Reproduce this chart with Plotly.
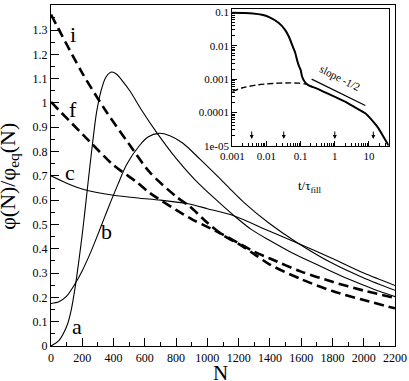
import math
import plotly.graph_objects as go

# ---------------- main panel data ----------------
N_a = [0, 50, 100, 125, 153, 180, 200, 216, 240, 265, 291, 320, 350, 387, 420, 460, 504,
       580, 674, 800, 918, 1050, 1173, 1280, 1394, 1537, 1700, 1850, 2000, 2100, 2200]
phi_a = [0.0, 0.022, 0.08, 0.135, 0.235, 0.36, 0.46, 0.55, 0.69, 0.83, 0.96, 1.05, 1.105, 1.127,
         1.118, 1.088, 1.05, 0.97, 0.88, 0.772, 0.686, 0.605, 0.535, 0.48, 0.436, 0.385, 0.335,
         0.29, 0.25, 0.225, 0.203]

N_b = [0, 50, 100, 153, 200, 250, 291, 340, 386, 428, 482, 566, 620, 690, 760, 842, 951,
       1055, 1140, 1235, 1395, 1575, 1800, 2000, 2200]
phi_b = [0.175, 0.182, 0.205, 0.255, 0.31, 0.38, 0.445, 0.525, 0.6, 0.665, 0.745, 0.825, 0.86,
         0.875, 0.865, 0.835, 0.77, 0.705, 0.65, 0.59, 0.505, 0.425, 0.34, 0.28, 0.229]

N_c = [0, 100, 204, 400, 567, 700, 885, 1000, 1173, 1395, 1575, 1800, 2000, 2200]
phi_c = [0.7, 0.67, 0.645, 0.62, 0.608, 0.6, 0.584, 0.565, 0.535, 0.473, 0.424, 0.36, 0.3, 0.249]

N_i = [0, 200, 355, 500, 631, 800, 886, 1000, 1100, 1200, 1300, 1400, 1600, 1800, 2000, 2200]
phi_i = [1.364, 1.123, 0.963, 0.83, 0.715, 0.615, 0.575, 0.507, 0.456, 0.42, 0.378, 0.335,
         0.275, 0.226, 0.189, 0.155]

N_f = [0, 249, 400, 547, 631, 800, 905, 1000, 1100, 1200, 1300, 1400, 1600, 1800, 2000, 2200]
phi_f = [1.004, 0.84, 0.744, 0.675, 0.63, 0.56, 0.52, 0.49, 0.458, 0.423, 0.388, 0.36, 0.306,
         0.264, 0.228, 0.198]

curve_labels = ["i", "f", "c", "b", "a"]
label_N = [142, 138, 121, 358, 164]
label_phi = [1.282, 0.972, 0.712, 0.47, 0.082]

x_ticks = list(range(0, 2201, 200))
y_ticks = [0, 0.1, 0.2, 0.3, 0.4, 0.5, 0.6, 0.7, 0.8, 0.9, 1.0, 1.1, 1.2, 1.3]
y_ticktext = ["0", "0.1", "0.2", "0.3", "0.4", "0.5", "0.6", "0.7", "0.8", "0.9", "1", "1.1", "1.2", "1.3"]

# ---------------- inset data ----------------
t_solid = [0.001, 0.002, 0.004, 0.0074, 0.012, 0.023, 0.035, 0.045, 0.06, 0.069, 0.08, 0.09, 0.1,
           0.11, 0.13, 0.16, 0.2, 0.3, 0.5, 1.05, 2, 4, 7.8, 12, 18.4, 27, 38]
phi_solid = [0.098, 0.096, 0.093, 0.085, 0.072, 0.048, 0.03, 0.019, 0.009, 0.0063, 0.0035, 0.0024,
             0.0019, 0.0012, 0.00085, 0.00068, 0.00061, 0.00052, 0.00041, 0.00029, 0.00021,
             0.00014, 9.5e-05, 6.0e-05, 3.5e-05, 1.8e-05, 1.0e-05]

t_dash = [0.001, 0.002, 0.0048, 0.01, 0.023, 0.05, 0.087, 0.13, 0.17]
phi_dash = [4.3e-04, 5.5e-04, 6.6e-04, 7.2e-04, 7.6e-04, 7.7e-04, 7.6e-04, 7.2e-04, 6.8e-04]

t_slope = [0.21, 7.8]
phi_slope = [1.0e-03, 1.62e-04]

arrow_t = [0.0037, 0.032, 1.0, 13.4]
arrow_phi = [1.6e-05, 1.6e-05, 1.6e-05, 1.6e-05]

inset_xticks = [0.001, 0.01, 0.1, 1, 10]
inset_xticktext = ["0.001", "0.01", "0.1", "1", "10"]
inset_yticks = [1e-05, 1e-04, 1e-03, 1e-02, 1e-01]
inset_yticktext = ["1e-05", "0.0001", "0.001", "0.01", "0.1"]

SERIF = "Liberation Serif, Times New Roman, serif"

fig = go.Figure()

thin = dict(color="black", width=1.1, shape="spline", smoothing=0.8)
for xs, ys in [(N_a, phi_a), (N_b, phi_b), (N_c, phi_c)]:
    fig.add_trace(go.Scatter(x=xs, y=ys, mode="lines", line=thin, showlegend=False, hoverinfo="skip"))
dashed = dict(color="black", width=2.6, dash="10px,5px", shape="spline", smoothing=0.8)
for xs, ys in [(N_i, phi_i), (N_f, phi_f)]:
    fig.add_trace(go.Scatter(x=xs, y=ys, mode="lines", line=dashed, showlegend=False, hoverinfo="skip"))

# inset traces
fig.add_trace(go.Scatter(x=t_solid, y=phi_solid, xaxis="x2", yaxis="y2", mode="lines",
                         line=dict(color="black", width=2, shape="spline", smoothing=0.6),
                         showlegend=False, hoverinfo="skip"))
fig.add_trace(go.Scatter(x=t_dash, y=phi_dash, xaxis="x2", yaxis="y2", mode="lines",
                         line=dict(color="black", width=1.4, dash="6px,3px", shape="spline", smoothing=0.6),
                         showlegend=False, hoverinfo="skip"))
fig.add_trace(go.Scatter(x=t_slope, y=phi_slope, xaxis="x2", yaxis="y2", mode="lines",
                         line=dict(color="black", width=1.2), showlegend=False, hoverinfo="skip"))

annotations = []
for lab, xn, yn in zip(curve_labels, label_N, label_phi):
    annotations.append(dict(x=xn, y=yn, xref="x", yref="y", text=lab, showarrow=False,
                            xanchor="center", yanchor="middle",
                            font=dict(family=SERIF, size=22, color="black")))
for at, ap in zip(arrow_t, arrow_phi):
    annotations.append(dict(x=math.log10(at), y=math.log10(ap),
                            xref="x2", yref="y2", text="", showarrow=True,
                            arrowhead=2, arrowsize=0.8, arrowwidth=1, arrowcolor="black",
                            ax=0, ay=-9))
annotations.append(dict(x=0.16, y=-3.21, xref="x2", yref="y2", text="slope -1/2", showarrow=False,
                        xanchor="center", yanchor="middle",
                        textangle=26.6, font=dict(family=SERIF, size=11, color="black"), yshift=8))
annotations.append(dict(x=0.754, y=0.468, xref="paper", yref="paper", text="t/τ<sub>fill</sub>",
                        xanchor="center", yanchor="middle",
                        showarrow=False, font=dict(family=SERIF, size=13, color="black")))
annotations.append(dict(x=0.493, y=-0.08, xref="paper", yref="paper", text="N",
                        xanchor="center", yanchor="middle",
                        showarrow=False, font=dict(family=SERIF, size=21, color="black")))
annotations.append(dict(x=-0.124, y=0.497, xref="paper", yref="paper",
                        text="φ(N)/φ<sub>eq</sub>(N)", textangle=-90,
                        xanchor="center", yanchor="middle",
                        showarrow=False, font=dict(family=SERIF, size=22, color="black")))

minor_log_x = [m * 10 ** e for e in range(-3, 2) for m in range(2, 10) if m * 10 ** e < 40]
minor_log_y = [m * 10 ** e for e in range(-5, 0) for m in range(2, 10)]

tickfont_main = dict(family=SERIF, size=12, color="black")
tickfont_inset = dict(family=SERIF, size=11, color="black")

fig.update_layout(
    width=409, height=381,
    margin=dict(l=51, r=12, t=2, b=35),
    paper_bgcolor="white", plot_bgcolor="white",
    font=dict(family=SERIF, size=12, color="black"),
    xaxis=dict(range=[0, 2200], tickvals=x_ticks, ticks="inside", ticklen=8, tickwidth=1,
               tickcolor="black", showgrid=False, zeroline=False, showline=True, linecolor="black",
               linewidth=1.2, mirror=True, tickfont=tickfont_main,
               minor=dict(tickmode="linear", tick0=0, dtick=100, ticks="inside", ticklen=4,
                          tickcolor="black", showgrid=False)),
    yaxis=dict(range=[0, 1.403], tickvals=y_ticks, ticktext=y_ticktext, ticks="inside", ticklen=8,
               tickwidth=1, tickcolor="black", showgrid=False, zeroline=False, showline=True,
               linecolor="black", linewidth=1.2, mirror=True, tickfont=tickfont_main,
               minor=dict(tickmode="linear", tick0=0, dtick=0.05, ticks="inside", ticklen=4,
                          tickcolor="black", showgrid=False)),
    xaxis2=dict(type="log", range=[-3, 1.58], domain=[0.527, 0.982], anchor="y2",
                tickvals=inset_xticks, ticktext=inset_xticktext, ticks="inside", ticklen=5,
                tickcolor="black", showgrid=False, zeroline=False, showline=True, linecolor="black",
                linewidth=1.2, mirror=True, tickfont=tickfont_inset,
                minor=dict(tickvals=minor_log_x, ticks="inside", ticklen=3, tickcolor="black",
                           showgrid=False)),
    yaxis2=dict(type="log", range=[-5, -0.9], domain=[0.587, 0.988], anchor="x2",
                tickvals=inset_yticks, ticktext=inset_yticktext, ticks="inside", ticklen=5,
                tickcolor="black", showgrid=False, zeroline=False, showline=True, linecolor="black",
                linewidth=1.2, mirror=True, tickfont=tickfont_inset,
                minor=dict(tickvals=minor_log_y, ticks="inside", ticklen=3, tickcolor="black",
                           showgrid=False)),
    annotations=annotations,
)

fig.write_html("out.html", config={"displayModeBar": False},
               post_script="document.body.style.margin='0px';")
